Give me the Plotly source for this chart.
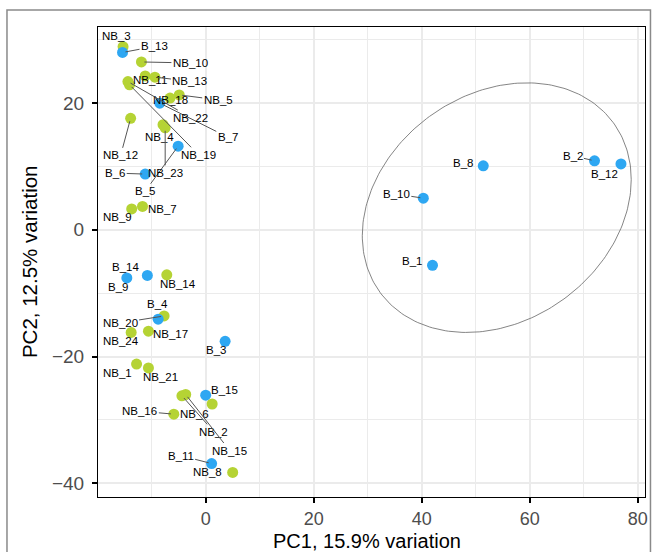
import numpy as np
import plotly.graph_objects as go

# ---------------- data ----------------
b_labels = ["B_1", "B_2", "B_3", "B_4", "B_5", "B_6", "B_7", "B_8", "B_9", "B_10",
            "B_11", "B_12", "B_13", "B_14", "B_15"]
b_pc1 = [42.0, 72.0, 3.6, -8.8, -5.1, -11.2, -8.5, 51.4, -14.6, 40.3,
         1.1, 76.9, -15.4, -10.8, 0.0]
b_pc2 = [-5.6, 10.9, -17.6, -14.1, 13.2, 8.8, 20.0, 10.1, -7.6, 5.0,
         -36.9, 10.4, 28.0, -7.2, -26.1]

nb_labels = ["NB_1", "NB_2", "NB_3", "NB_4", "NB_5", "NB_6", "NB_7", "NB_8", "NB_9", "NB_10",
             "NB_11", "NB_12", "NB_13", "NB_14", "NB_15", "NB_16", "NB_17", "NB_18", "NB_19",
             "NB_20", "NB_21", "NB_22", "NB_23", "NB_24"]
nb_pc1 = [-12.8, -4.4, -15.3, -7.9, -4.9, 1.2, -11.7, 5.0, -13.7, -11.9,
          -11.2, -13.9, -9.4, -7.2, -3.7, -5.9, -10.6, -6.6, -14.1,
          -7.7, -10.6, -14.4, -7.5, -13.8]
nb_pc2 = [-21.2, -26.2, 28.9, 16.6, 21.3, -27.5, 3.7, -38.3, 3.3, 26.5,
          24.3, 17.6, 24.1, -7.1, -26.0, -29.1, -16.0, 20.8, 22.9,
          -13.6, -21.8, 23.4, 16.1, -16.2]

x_ticks = [0, 20, 40, 60, 80]
y_ticks = [-40, -20, 0, 20]
x_title = "PC1, 15.9% variation"
y_title = "PC2, 12.5% variation"

# ellipse annotation parameters (center, half extents, phase)
ell_center = (53.9, 3.5)
ell_half = (24.9, 19.7)
ell_phase_deg = 77.0

# ---------------- label placement (pixel offsets: dx, dy, draw segment) ----------------
label_pos = {
    "B_1": (-21, -4, False), "B_2": (-22, -5, True), "B_3": (-9, 9, False),
    "B_4": (-1, -15, False), "B_5": (-33, 45, True), "B_6": (-30, -1, True),
    "B_7": (68, 34, True), "B_8": (-20, -3, False), "B_9": (-9, 9, False),
    "B_10": (-27, -4, True), "B_11": (-31, -8, True), "B_12": (-16, 10, False),
    "B_13": (32, -6, True), "B_14": (-22, -8, False), "B_15": (19, -5, False),
    "NB_1": (-19, 9, False), "NB_2": (32, 36, True), "NB_3": (-7, -11, False),
    "NB_4": (-4, 12, False), "NB_5": (39, 5, True), "NB_6": (-18, 10, False),
    "NB_7": (20, 3, False), "NB_8": (-25, 0, False), "NB_9": (-14, 8, False),
    "NB_10": (49, 1, True), "NB_11": (5, 4, False), "NB_12": (-10, 37, True),
    "NB_13": (35, 4, True), "NB_14": (11, 9, False), "NB_15": (44, 56, True),
    "NB_16": (-34, -3, True), "NB_17": (22, 3, False), "NB_18": (0, 2, False),
    "NB_19": (69, 70, True), "NB_20": (-44, 7, True), "NB_21": (12, 9, False),
    "NB_22": (63, 36, True), "NB_23": (0, 45, True), "NB_24": (-10, 9, False),
}

GREEN = "#B5D334"
BLUE = "#2EA7F2"
FONT = "Liberation Sans, Arial, Helvetica, sans-serif"

fig = go.Figure()

# ellipse
t = np.linspace(0, 2 * np.pi, 241)
ph = np.deg2rad(ell_phase_deg)
ex = ell_center[0] + ell_half[0] * np.cos(t)
ey = ell_center[1] + ell_half[1] * np.cos(t - ph)
fig.add_trace(go.Scatter(x=ex, y=ey, mode="lines",
                         line=dict(color="#666666", width=0.8),
                         hoverinfo="skip", showlegend=False))

fig.add_trace(go.Scatter(x=nb_pc1, y=nb_pc2, mode="markers", text=nb_labels,
                         marker=dict(color=GREEN, size=11, line=dict(width=0)),
                         showlegend=False))
fig.add_trace(go.Scatter(x=b_pc1, y=b_pc2, mode="markers", text=b_labels,
                         marker=dict(color=BLUE, size=11, line=dict(width=0)),
                         showlegend=False))

annotations = []
for labs, xs, ys in ((b_labels, b_pc1, b_pc2), (nb_labels, nb_pc1, nb_pc2)):
    for lab, x, y in zip(labs, xs, ys):
        dx, dy, seg = label_pos[lab]
        common = dict(x=x, y=y, xref="x", yref="y", text=lab,
                      font=dict(family=FONT, size=11.5, color="black"))
        if seg:
            annotations.append(dict(**common, showarrow=True, arrowhead=0,
                                    arrowwidth=1, arrowcolor="#555555",
                                    ax=dx, ay=dy, standoff=3))
        else:
            annotations.append(dict(**common, showarrow=False,
                                    xshift=dx, yshift=-dy))

# axis titles as paper annotations
annotations.append(dict(text=x_title, xref="paper", yref="paper", x=0.492, y=-0.0936,
                        xanchor="center", yanchor="middle", showarrow=False,
                        font=dict(family=FONT, size=20, color="black")))
annotations.append(dict(text=y_title, xref="paper", yref="paper", x=-0.126, y=0.5,
                        xanchor="center", yanchor="middle", showarrow=False,
                        textangle=-90,
                        font=dict(family=FONT, size=20.5, color="black")))

fig.update_layout(
    width=652, height=552,
    margin=dict(l=98, r=7, t=27, b=55, autoexpand=False),
    paper_bgcolor="white", plot_bgcolor="white",
    font=dict(family=FONT),
    annotations=annotations,
    shapes=[dict(type="rect", xref="paper", yref="paper",
                 x0=-0.1664, x1=1.010, y0=-0.2, y1=1.036,
                 line=dict(color="#8a8a8a", width=1.5), layer="below")],
    xaxis=dict(
        range=[-19.94, 81.35], tickvals=x_ticks, ticktext=[str(v) for v in x_ticks],
        automargin=False,
        showgrid=True, gridcolor="#EBEBEB", gridwidth=2,
        minor=dict(tickvals=[-10, 10, 30, 50, 70], showgrid=True,
                   gridcolor="#EBEBEB", gridwidth=1, ticks=""),
        zeroline=False, showline=True, mirror=True, linecolor="black", linewidth=1,
        ticks="outside", ticklen=5, tickwidth=1.5, tickcolor="black",
        ticklabelstandoff=0,
        tickfont=dict(family=FONT, size=18, color="#4D4D4D"),
    ),
    yaxis=dict(
        range=[-42.18, 32.02], tickvals=y_ticks,
        ticktext=["\u221240", "\u221220", "0", "20"],
        automargin=False,
        showgrid=True, gridcolor="#EBEBEB", gridwidth=2,
        minor=dict(tickvals=[-30, -10, 10, 30], showgrid=True,
                   gridcolor="#EBEBEB", gridwidth=1, ticks=""),
        zeroline=False, showline=True, mirror=True, linecolor="black", linewidth=1,
        ticks="outside", ticklen=5, tickwidth=1.5, tickcolor="black",
        ticklabelstandoff=4,
        tickfont=dict(family=FONT, size=19, color="#4D4D4D"),
    ),
)

fig.write_html("out.html")
